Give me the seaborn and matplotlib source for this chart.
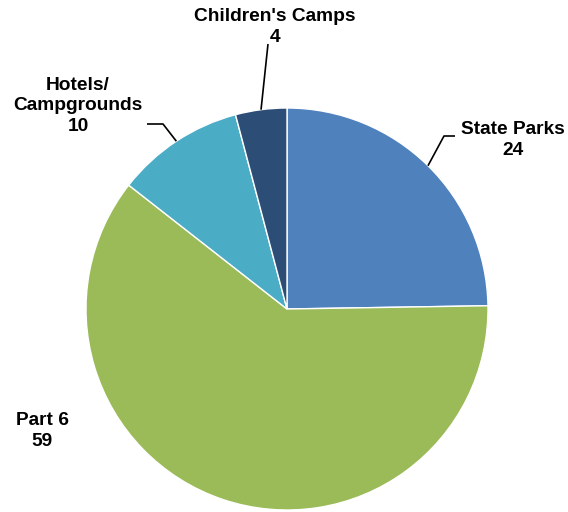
import numpy as np
import matplotlib
matplotlib.use("Agg")
import matplotlib.pyplot as plt
import seaborn as sns

# data
labels = ["State Parks", "Part 6", "Hotels/\nCampgrounds", "Children's Camps"]
values = [24, 59, 10, 4]
colors = ["#4F81BD", "#9BBB59", "#4BACC6", "#2C4D75"]

sns.set_theme(style="white")
plt.rcParams['font.family'] = ['Liberation Sans', 'DejaVu Sans']

W, H = 568, 512
fig = plt.figure(figsize=(W / 100, H / 100), dpi=100)
ax = fig.add_axes([0, 0, 1, 1])
ax.set_xlim(0, W)
ax.set_ylim(0, H)
ax.axis("off")

# pie geometry in pixels (y measured from top)
cx, cy, r = 287, 309, 201
center = (cx, H - cy)

wedges, _ = ax.pie(values, colors=sns.color_palette(colors), startangle=90,
                   counterclock=False, center=center, radius=r,
                   wedgeprops=dict(edgecolor="white", linewidth=1))
ax.set_aspect("equal")
ax.set_xlim(0, W)
ax.set_ylim(0, H)

# label layout: text centre, leader elbow points (pixels from top)
text_pos = [(513, 140), (42, 431), (78, 106), (275, 27)]
elbows = [[(444, 136), (455, 136)], None, [(163, 124), (147, 124)], [(268, 44)]]

for w, lab, val, (tx, ty), elb in zip(wedges, labels, values, text_pos, elbows):
    ang = np.deg2rad((w.theta1 + w.theta2) / 2)
    if elb is not None:
        ex = cx + r * np.cos(ang)
        ey = H - cy + r * np.sin(ang)
        xs = [ex] + [p[0] for p in elb]
        ys = [ey] + [H - p[1] for p in elb]
        ax.plot(xs, ys, color="black", lw=1.2, solid_capstyle="butt")
    ax.text(tx, H - ty, f"{lab}\n{val}", ha="center", va="center",
            fontsize=13.8, fontweight="bold", color="black", linespacing=1.25)

fig.savefig("out.png", dpi=100)
